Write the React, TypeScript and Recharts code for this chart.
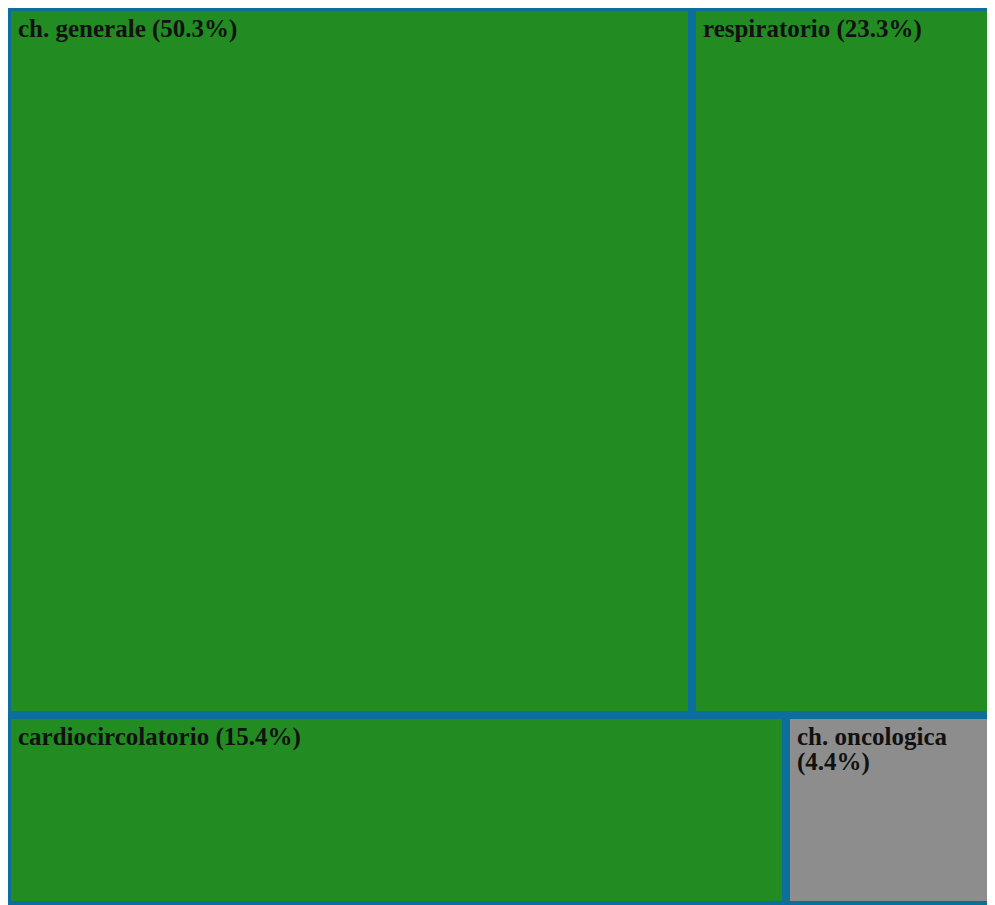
import React from 'react';
import { Treemap } from 'recharts';

// Share of admissions by surgical area
const categories = ['ch. generale', 'respiratorio', 'cardiocircolatorio', 'ch. oncologica'];
const shares = [50.3, 23.3, 15.4, 4.4];

// Which categories make up the upper and the lower band of tiles
const upperBand = [0, 1];
const lowerBand = [2, 3];

// Categories drawn in grey instead of green
const mutedCategories = ['ch. oncologica'];

const CHART_WIDTH = 1002;
const CHART_HEIGHT = 898;
const BORDER_COLOR = '#0c6f9b';
const TILE_GREEN = '#228b22';
const TILE_GREY = '#8d8d8d';
const LABEL_FONT = 'bold 25px "Liberation Serif", "Times New Roman", serif';
const LABEL_PAD_X = 11;
const LABEL_BASELINE = 30;
const LABEL_LINE_HEIGHT = 25;

let measureCtx: CanvasRenderingContext2D | null = null;
const measureLabel = (text: string) => {
  if (!measureCtx) {
    measureCtx = document.createElement('canvas').getContext('2d');
  }
  if (!measureCtx) return text.length * 11;
  measureCtx.font = LABEL_FONT;
  return measureCtx.measureText(text).width;
};

// Greedy word wrap of a tile label to the width that the tile leaves for it
const wrapLabel = (text: string, maxWidth: number) => {
  const words = text.split(' ');
  const lines: string[] = [];
  let current = '';
  words.forEach((word) => {
    const candidate = current ? `${current} ${word}` : word;
    if (current && measureLabel(candidate) > maxWidth) {
      lines.push(current);
      current = word;
    } else {
      current = candidate;
    }
  });
  if (current) lines.push(current);
  return lines;
};

const leaf = (i: number) => ({
  name: categories[i],
  value: shares[i],
  label: `${categories[i]} (${shares[i].toFixed(1)}%)`,
});

// A zero-sized entry closes the current squarified row, so the tiles of a band
// are laid out side by side rather than stacked.
const rowBreak = { name: '', value: 0 };

const bandChildren = (band: number[]) =>
  band.flatMap((i, k) => (k === 0 ? [leaf(i)] : [rowBreak, leaf(i)]));

const treeData = [
  { name: 'upper', children: bandChildren(upperBand) },
  { name: 'lower', children: bandChildren(lowerBand) },
];

const renderTile = (node: any) => {
  const { x, y, width, height, depth, name, value, label } = node;
  if (depth !== 2 || !value || width <= 0 || height <= 0) {
    return <g />;
  }
  const fill = mutedCategories.includes(name) ? TILE_GREY : TILE_GREEN;
  const lines = wrapLabel(label, width - 2 * LABEL_PAD_X - 4);
  return (
    <g>
      <rect
        x={x}
        y={y}
        width={width}
        height={height}
        fill={fill}
        stroke={BORDER_COLOR}
        strokeWidth={8}
      />
      <text
        x={x + LABEL_PAD_X}
        y={y + LABEL_BASELINE}
        fill="#111111"
        style={{ font: LABEL_FONT }}
      >
        {lines.map((line, i) => (
          <tspan key={i} x={x + LABEL_PAD_X} dy={i === 0 ? 0 : LABEL_LINE_HEIGHT}>
            {line}
          </tspan>
        ))}
      </text>
    </g>
  );
};

export default function App() {
  return (
    <div
      style={{
        marginLeft: -1,
        marginTop: -4,
        paddingTop: 3,
        width: 988,
        height: 898,
        overflow: 'hidden',
      }}
    >
      <style>{'.recharts-surface { overflow: visible; }'}</style>
      <Treemap
        width={CHART_WIDTH}
        height={CHART_HEIGHT}
        data={treeData}
        dataKey="value"
        nameKey="name"
        aspectRatio={3}
        isAnimationActive={false}
        content={renderTile}
      />
    </div>
  );
}
